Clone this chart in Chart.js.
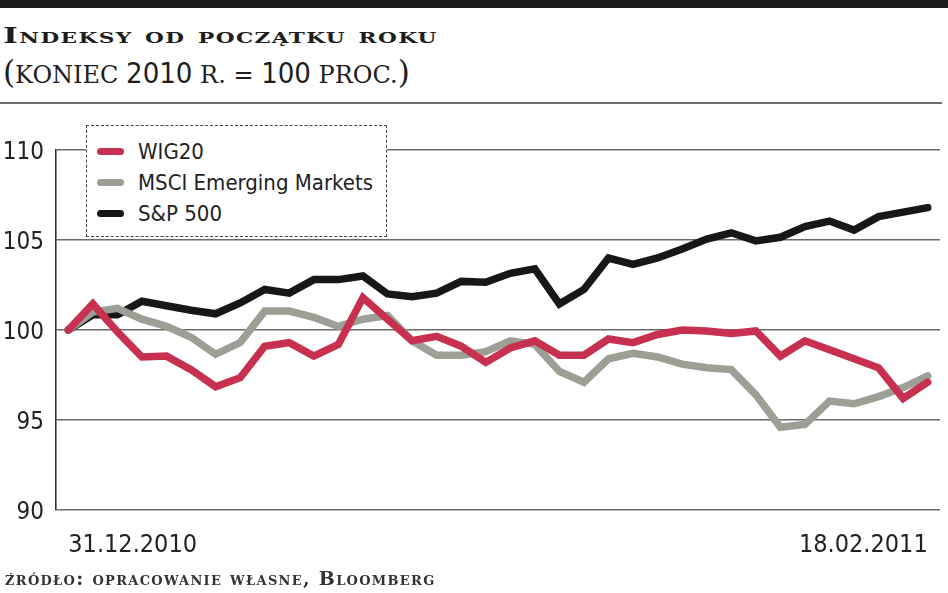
<!DOCTYPE html>
<html>
<head>
<meta charset="utf-8">
<script src="https://cdn.jsdelivr.net/npm/chart.js@4.4.1/dist/chart.umd.min.js"></script>
<style>
  html, body { margin: 0; padding: 0; background: #fff; }
  body { width: 948px; height: 593px; position: relative; overflow: hidden; color: #1e1e1e; }
  .topbar { position: absolute; left: 0; top: 0; width: 948px; height: 8px; background: #1b1b1b; }
  .title { position: absolute; left: 3px; top: 22px; font: bold 22px 'DejaVu Serif', serif; font-variant: small-caps;
    letter-spacing: 1px; white-space: nowrap; transform: scaleX(1.44); transform-origin: 0 0; }
  .subtitle { position: absolute; left: 3px; top: 54px; font: 24px 'DejaVu Serif', serif; white-space: nowrap; }
  .subtitle .num { font: 29px 'DejaVu Sans Condensed', sans-serif; }
  .subtitle .par { font-size: 31px; }
  .rule { position: absolute; left: 0; top: 102px; width: 942px; height: 2px; background: #6a6a6a; }
  .wrap { position: absolute; left: 0; top: 100px; width: 948px; height: 470px; }
  .legend { position: absolute; left: 86px; top: 125px; width: 299px; height: 110px; border: 1.5px dashed #444; background: #fff; }
  .legend .row { position: absolute; left: 10px; height: 30px; display: flex; align-items: center; white-space: nowrap;
    font: 22px 'DejaVu Sans Condensed', sans-serif; color: #222; }
  .legend .sw { width: 27px; height: 7px; border-radius: 4px; margin-right: 14px; }
  .source { position: absolute; left: 5px; top: 567px; font: bold 19px 'DejaVu Serif', serif; font-variant: small-caps;
    letter-spacing: 1.3px; color: #333; white-space: nowrap; }
</style>
</head>
<body>
<div class="topbar"></div>
<div class="title">Indeksy od początku roku</div>
<div class="subtitle"><span class="par">(</span>KONIEC <span class="num">2010</span> R. = <span class="num">100</span> PROC.<span class="par">)</span></div>
<div class="rule"></div>
<div class="wrap"><canvas id="chart"></canvas></div>
<div class="legend" id="legend"></div>
<div class="source">źródło: opracowanie własne, Bloomberg</div>

<script>
// trading days 31.12.2010 - 18.02.2011
const dates = [
  '31.12.2010',
  '03.01.2011', '04.01.2011', '05.01.2011', '06.01.2011', '07.01.2011',
  '10.01.2011', '11.01.2011', '12.01.2011', '13.01.2011', '14.01.2011',
  '17.01.2011', '18.01.2011', '19.01.2011', '20.01.2011', '21.01.2011',
  '24.01.2011', '25.01.2011', '26.01.2011', '27.01.2011', '28.01.2011',
  '31.01.2011', '01.02.2011', '02.02.2011', '03.02.2011', '04.02.2011',
  '07.02.2011', '08.02.2011', '09.02.2011', '10.02.2011', '11.02.2011',
  '14.02.2011', '15.02.2011', '16.02.2011', '17.02.2011', '18.02.2011',
];

const wig20 = [
  100.0, 101.45, 99.9, 98.5, 98.55, 97.8, 96.85, 97.35, 99.1, 99.3, 98.55, 99.2,
  101.8, 100.6, 99.4, 99.65, 99.1, 98.2, 99.0, 99.4, 98.6, 98.6, 99.5, 99.3,
  99.75, 100.0, 99.95, 99.8, 99.95, 98.55, 99.4, 98.9, 98.4, 97.9, 96.2, 97.1,
];
const msciEm = [
  100.0, 101.0, 101.2, 100.6, 100.2, 99.6, 98.65, 99.3, 101.05, 101.05, 100.7, 100.2,
  100.6, 100.8, 99.4, 98.6, 98.6, 98.8, 99.4, 99.2, 97.7, 97.1, 98.4, 98.7,
  98.5, 98.1, 97.9, 97.8, 96.4, 94.6, 94.75, 96.05, 95.9, 96.3, 96.8, 97.45,
];
const sp500 = [
  100.0, 100.85, 100.85, 101.6, 101.35, 101.1, 100.9, 101.5, 102.25, 102.05, 102.8, 102.8,
  103.0, 102.0, 101.85, 102.05, 102.7, 102.65, 103.15, 103.4, 101.45, 102.25, 104.0, 103.65,
  104.0, 104.5, 105.05, 105.4, 104.95, 105.15, 105.75, 106.05, 105.55, 106.3, 106.55, 106.8,
];

const seriesNames = ['WIG20', 'MSCI Emerging Markets', 'S&P 500'];
const seriesColors = ['#c8304f', '#9b9f94', '#171717'];
const yTicks = [90, 95, 100, 105, 110];

const tickFont = "'DejaVu Sans Condensed', sans-serif";

function buildLegend() {
  const box = document.getElementById('legend');
  seriesNames.forEach((name, i) => {
    const row = document.createElement('div');
    row.className = 'row';
    row.style.top = (10 + i * 31) + 'px';
    row.innerHTML = `<span class="sw" style="background:${seriesColors[i]}"></span><span></span>`;
    row.lastChild.textContent = name;
    box.appendChild(row);
  });
}

const values = [wig20, msciEm, sp500];

new Chart(document.getElementById('chart').getContext('2d'), {
  type: 'line',
  data: {
    labels: dates,
    datasets: values.map((data, i) => ({
      label: seriesNames[i],
      data,
      borderColor: seriesColors[i],
      borderWidth: 7.5,
      borderCapStyle: 'round',
      borderJoinStyle: 'miter',
      pointRadius: 0,
      tension: 0,
      fill: false,
    })),
  },
  options: {
    responsive: true,
    maintainAspectRatio: false,
    animation: false,
    layout: { padding: { top: 50, right: 8, left: 0, bottom: 0 } },
    plugins: { legend: { display: false }, tooltip: { enabled: false } },
    scales: {
      x: {
        type: 'category',
        offset: true,
        grid: { display: false },
        border: { display: false },
        afterFit: (scale) => { scale.height = 60; },
        ticks: {
          autoSkip: false,
          maxRotation: 0,
          align: 'inner',
          padding: 12,
          color: '#222',
          font: { family: tickFont, size: 25 },
          callback: (val, idx) => (idx === 0 || idx === dates.length - 1 ? dates[idx] : ''),
        },
      },
      y: {
        min: 90,
        max: 110,
        afterBuildTicks: (scale) => { scale.ticks = yTicks.map((v) => ({ value: v })); },
        afterFit: (scale) => { scale.width = 56; },
        grid: { color: '#6a6a6a', lineWidth: 1.6, drawTicks: false },
        border: { display: true, color: '#333', width: 1.6 },
        ticks: {
          padding: 12,
          labelOffset: 3,
          color: '#222',
          font: { family: tickFont, size: 24 },
        },
      },
    },
  },
});

buildLegend();
</script>
</body>
</html>
